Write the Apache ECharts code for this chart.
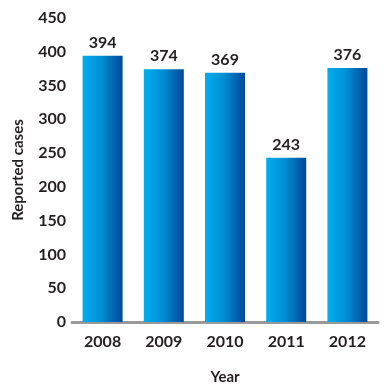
<!DOCTYPE html>
<html><head><meta charset="utf-8">
<script src="https://cdn.jsdelivr.net/npm/echarts@6/dist/echarts.min.js"></script>
<style>html,body{margin:0;padding:0;background:#fff}#c{width:390px;height:390px}</style>
</head><body><div id="c"></div>
<script>
const years = ['2008','2009','2010','2011','2012'];
const cases = [394, 374, 369, 243, 376];
const yTicks = {min: 0, max: 450, interval: 50};

const chart = echarts.init(document.getElementById('c'));
const font = 'Lato';
const tc = '#231f20';
chart.setOption({
  animation: false,
  grid: {left: 72, right: 12, top: 18, bottom: 67},
  xAxis: {
    type: 'category', data: years,
    name: 'Year', nameLocation: 'middle', nameGap: 48,
    nameTextStyle: {fontFamily: font, fontWeight: 'bold', fontSize: 15, color: tc},
    axisLine: {lineStyle: {color: '#999', width: 3}},
    axisTick: {show: false},
    axisLabel: {fontFamily: font, fontWeight: 'bold', fontSize: 16, color: tc, margin: 12}
  },
  yAxis: {
    type: 'value', min: yTicks.min, max: yTicks.max, interval: yTicks.interval,
    name: 'Reported cases', nameLocation: 'middle', nameGap: 46,
    nameTextStyle: {fontFamily: font, fontWeight: 'bold', fontSize: 15, color: tc},
    splitLine: {show: false}, axisLine: {show: false}, axisTick: {show: false},
    axisLabel: {fontFamily: font, fontWeight: 'bold', fontSize: 16, color: tc, margin: 6}
  },
  series: [{
    type: 'bar', data: cases, barWidth: 40,
    itemStyle: {color: new echarts.graphic.LinearGradient(0,0,1,0,[
      {offset: 0, color: '#00aeef'}, {offset: 0.45, color: '#0090d6'}, {offset: 1, color: '#00479a'}])},
    label: {show: true, position: 'top', distance: 5, fontFamily: font, fontWeight: 'bold', fontSize: 16, color: tc}
  }]
});
</script></body></html>
